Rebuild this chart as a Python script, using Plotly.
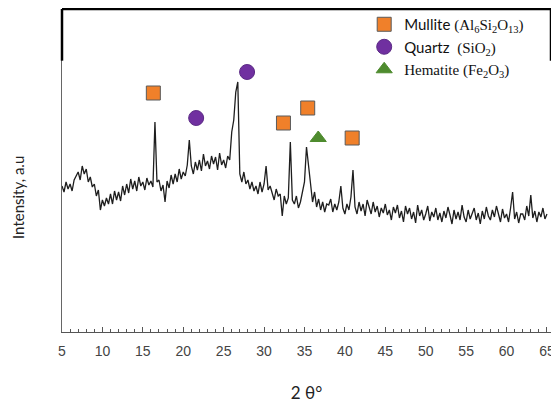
import plotly.graph_objects as go

# XRD scan: start angle and step (degrees 2θ)
scan_start = 5.0
scan_step = 0.25

# Intensity (a.u.), 4 points per degree, 5° … 65°
intensity = [
    146, 140, 150, 143,   # 5
    148, 141, 152, 156,   # 6
    160, 152, 166, 158,   # 7
    163, 150, 155, 145,   # 8
    148, 136, 142, 122,   # 9
    132, 126, 134, 128,   # 10
    138, 128, 141, 132,   # 11
    140, 131, 146, 137,   # 12
    148, 139, 153, 143,   # 13
    151, 141, 155, 146,   # 14
    150, 142, 154, 147,   # 15
    151, 145, 210, 150,   # 16
    152, 141, 147, 130,   # 17
    151, 144, 157, 148,   # 18
    158, 150, 163, 153,   # 19
    160, 156, 167, 192,   # 20
    166, 158, 170, 162,   # 21
    172, 161, 178, 166,   # 22
    171, 163, 176, 168,   # 23
    175, 162, 179, 167,   # 24
    172, 164, 176, 172,   # 25
    200, 212, 240, 250,   # 26
    158, 150, 160, 148,   # 27
    152, 143, 150, 141,   # 28
    146, 138, 150, 140,   # 29
    148, 166, 142, 146,   # 30
    140, 132, 143, 136,   # 31
    138, 116, 136, 128,   # 32
    134, 190, 132, 128,   # 33
    136, 124, 130, 140,   # 34
    150, 185, 168, 150,   # 35
    130, 140, 125, 133,   # 36
    122, 130, 120, 128,   # 37
    127, 133, 120, 128,   # 38
    122, 130, 146, 124,   # 39
    118, 128, 122, 135,   # 40
    162, 125, 118, 130,   # 41
    121, 128, 116, 132,   # 42
    124, 118, 130, 120,   # 43
    126, 115, 124, 119,   # 44
    128, 117, 122, 112,   # 45
    125, 119, 127, 114,   # 46
    121, 110, 126, 118,   # 47
    124, 113, 120, 109,   # 48
    127, 116, 122, 112,   # 49
    118, 126, 111, 120,   # 50
    115, 124, 112, 119,   # 51
    110, 121, 114, 125,   # 52
    117, 108, 122, 113,   # 53
    120, 112, 127, 115,   # 54
    110, 122, 113, 118,   # 55
    124, 112, 119, 108,   # 56
    121, 113, 125, 116,   # 57
    112, 122, 115, 126,   # 58
    118, 110, 123, 114,   # 59
    118, 110, 124, 140,   # 60
    113, 120, 109, 118,   # 61
    118, 112, 126, 116,   # 62
    137, 114, 121, 110,   # 63
    120, 115, 124, 113,   # 64
    118,                  # 65
]
two_theta = [scan_start + scan_step * i for i in range(len(intensity))]

# Phase identification markers
mullite_x = [16.3, 32.4, 35.4, 40.9]
mullite_y = [239, 209, 224, 194]
quartz_x = [21.6, 27.9]
quartz_y = [214, 260]
hematite_x = [36.7]
hematite_y = [194]

x_ticks = [5, 10, 15, 20, 25, 30, 35, 40, 45, 50, 55, 60, 65]

SERIF = "'Liberation Serif', 'Times New Roman', serif"
SANS = "Lato, 'Open Sans', sans-serif"

def serif(t):
    return f"<span style=\"font-family:{SERIF}\">{t}</span>"

fig = go.Figure()
fig.add_trace(go.Scatter(
    x=two_theta, y=intensity, mode="lines",
    line=dict(color="#1e1e1e", width=1.3), showlegend=False, hoverinfo="skip"))

fig.add_trace(go.Scatter(
    x=mullite_x, y=mullite_y, mode="markers",
    name="Mullite " + serif("(Al<sub>6</sub>Si<sub>2</sub>O<sub>13</sub>)"),
    marker=dict(symbol="square", size=14, color="#F0802A",
                line=dict(color="#5a5a5a", width=1))))
fig.add_trace(go.Scatter(
    x=quartz_x, y=quartz_y, mode="markers",
    name="Quartz  " + serif("(SiO<sub>2</sub>)"),
    marker=dict(symbol="circle", size=15, color="#7030A0",
                line=dict(color="#5b2a85", width=1))))
fig.add_trace(go.Scatter(
    x=hematite_x, y=hematite_y, mode="markers",
    name=serif("Hematite (Fe<sub>2</sub>O<sub>3</sub>)"),
    marker=dict(symbol="triangle-up", size=14, color="#4E8B2E",
                line=dict(color="#4E8B2E", width=1))))

# framing: thick black top box
fig.add_shape(type="line", xref="paper", yref="paper", x0=0, x1=1, y0=1, y1=1,
              line=dict(color="black", width=2.5))
fig.add_shape(type="line", xref="paper", yref="paper", x0=0, x1=0, y0=0.84, y1=1,
              line=dict(color="black", width=2.5))
fig.add_shape(type="line", xref="paper", yref="paper", x0=1, x1=1, y0=0.84, y1=1,
              line=dict(color="black", width=2.5))

fig.add_annotation(text="Intensity, a.u", xref="paper", yref="paper",
                   x=-0.09, y=0.418, xanchor="center", yanchor="middle",
                   textangle=-90, showarrow=False,
                   font=dict(family=SANS, size=15, color="#222"))

# the page body adds an 8 px offset, so the margins are set to compensate
fig.update_layout(
    width=559, height=407,
    margin=dict(l=54, r=16, t=1, b=83, autoexpand=False),
    paper_bgcolor="white", plot_bgcolor="white",
    legend=dict(x=0.618, y=1.003, xanchor="left", yanchor="top",
                bgcolor="rgba(0,0,0,0)", borderwidth=0,
                font=dict(family=SANS, size=15, color="#111"),
                tracegroupgap=0, itemwidth=30),
    xaxis=dict(range=[5, 65.5], tickvals=x_ticks, showgrid=False, zeroline=False,
               automargin=False,
               showline=True, linecolor="#555", linewidth=1,
               ticks="inside", ticklen=5, tickcolor="#555",
               ticklabelstandoff=6,
               minor=dict(dtick=1, ticks="inside", ticklen=3, tickcolor="#555"),
               tickfont=dict(family="'Liberation Sans', Arial, sans-serif", size=14, color="#444"),
               title=dict(text="2 θ°", font=dict(family=SANS, size=17, color="#222"), standoff=29)),
    yaxis=dict(range=[0, 323], showticklabels=False, showgrid=False, zeroline=False,
               automargin=False,
               showline=True, linecolor="#666", linewidth=1, mirror=True, ticks=""),
)

fig.write_html("out.html")
